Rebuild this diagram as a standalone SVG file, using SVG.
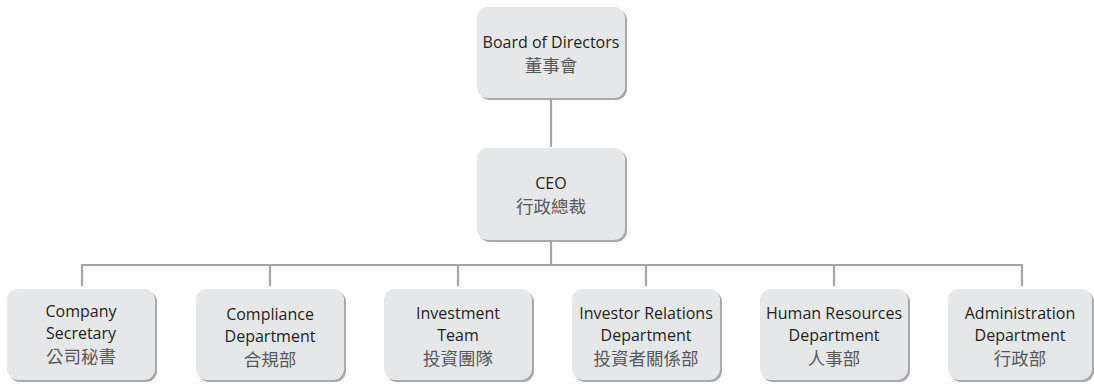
<svg xmlns="http://www.w3.org/2000/svg" width="1094" height="384" viewBox="0 0 1094 384">
<defs>
<style>
.shadow{fill:#a7a9ac}
.box{fill:#e6e7e8}
.conn{stroke:#a2a4a7;stroke-width:2.2;fill:none}
.en{font-family:"Open Sans","Liberation Sans",sans-serif;font-size:16px;fill:#231f20;text-anchor:middle}
.zh{font-family:"Noto Sans CJK TC","Noto Sans CJK SC",sans-serif;font-size:17.5px;fill:#58595b;text-anchor:middle}
</style>
</defs>
<rect width="1094" height="384" fill="#ffffff"/>
<g id="connectors">
<line class="conn" x1="551" y1="99" x2="551" y2="147"/>
<line class="conn" x1="551" y1="240" x2="551" y2="265"/>
<line class="conn" x1="82" y1="265" x2="1022" y2="265"/>
<line class="conn" x1="82" y1="264" x2="82" y2="286"/>
<line class="conn" x1="270" y1="264" x2="270" y2="286"/>
<line class="conn" x1="458" y1="264" x2="458" y2="286"/>
<line class="conn" x1="646" y1="264" x2="646" y2="286"/>
<line class="conn" x1="834" y1="264" x2="834" y2="286"/>
<line class="conn" x1="1022" y1="264" x2="1022" y2="286"/>
</g>
<g id="board">
<rect class="shadow" x="479" y="9" width="148" height="91" rx="11"/>
<rect class="box" x="477" y="7" width="148" height="91" rx="11"/>
<text class="en" x="551" y="48">Board of Directors</text>
<text class="zh" x="551" y="72">董事會</text>
</g>
<g id="ceo">
<rect class="shadow" x="479" y="150" width="148" height="92" rx="11"/>
<rect class="box" x="477" y="148" width="148" height="92" rx="11"/>
<text class="en" x="551" y="189">CEO</text>
<text class="zh" x="551" y="213">行政總裁</text>
</g>
<g id="secretary">
<rect class="shadow" x="9" y="291" width="148" height="91" rx="11"/>
<rect class="box" x="7" y="289" width="148" height="91" rx="11"/>
<text class="en" x="81" y="317">Company</text>
<text class="en" x="81" y="339">Secretary</text>
<text class="zh" x="81" y="363">公司秘書</text>
</g>
<g id="compliance">
<rect class="shadow" x="198" y="291" width="148" height="91" rx="11"/>
<rect class="box" x="196" y="289" width="148" height="91" rx="11"/>
<text class="en" x="270" y="320">Compliance</text>
<text class="en" x="270" y="342">Department</text>
<text class="zh" x="270" y="366">合規部</text>
</g>
<g id="investment">
<rect class="shadow" x="386" y="291" width="148" height="91" rx="11"/>
<rect class="box" x="384" y="289" width="148" height="91" rx="11"/>
<text class="en" x="458" y="319">Investment</text>
<text class="en" x="458" y="341">Team</text>
<text class="zh" x="458" y="365">投資團隊</text>
</g>
<g id="investor-relations">
<rect class="shadow" x="574" y="291" width="148" height="91" rx="11"/>
<rect class="box" x="572" y="289" width="148" height="91" rx="11"/>
<text class="en" x="646" y="319">Investor Relations</text>
<text class="en" x="646" y="341">Department</text>
<text class="zh" x="646" y="365">投資者關係部</text>
</g>
<g id="hr">
<rect class="shadow" x="762" y="291" width="148" height="91" rx="11"/>
<rect class="box" x="760" y="289" width="148" height="91" rx="11"/>
<text class="en" x="834" y="319">Human Resources</text>
<text class="en" x="834" y="341">Department</text>
<text class="zh" x="834" y="365">人事部</text>
</g>
<g id="administration">
<rect class="shadow" x="950" y="291" width="144" height="91" rx="11"/>
<rect class="box" x="948" y="289" width="144" height="91" rx="11"/>
<text class="en" x="1020" y="319">Administration</text>
<text class="en" x="1020" y="341">Department</text>
<text class="zh" x="1020" y="365">行政部</text>
</g>
</svg>
